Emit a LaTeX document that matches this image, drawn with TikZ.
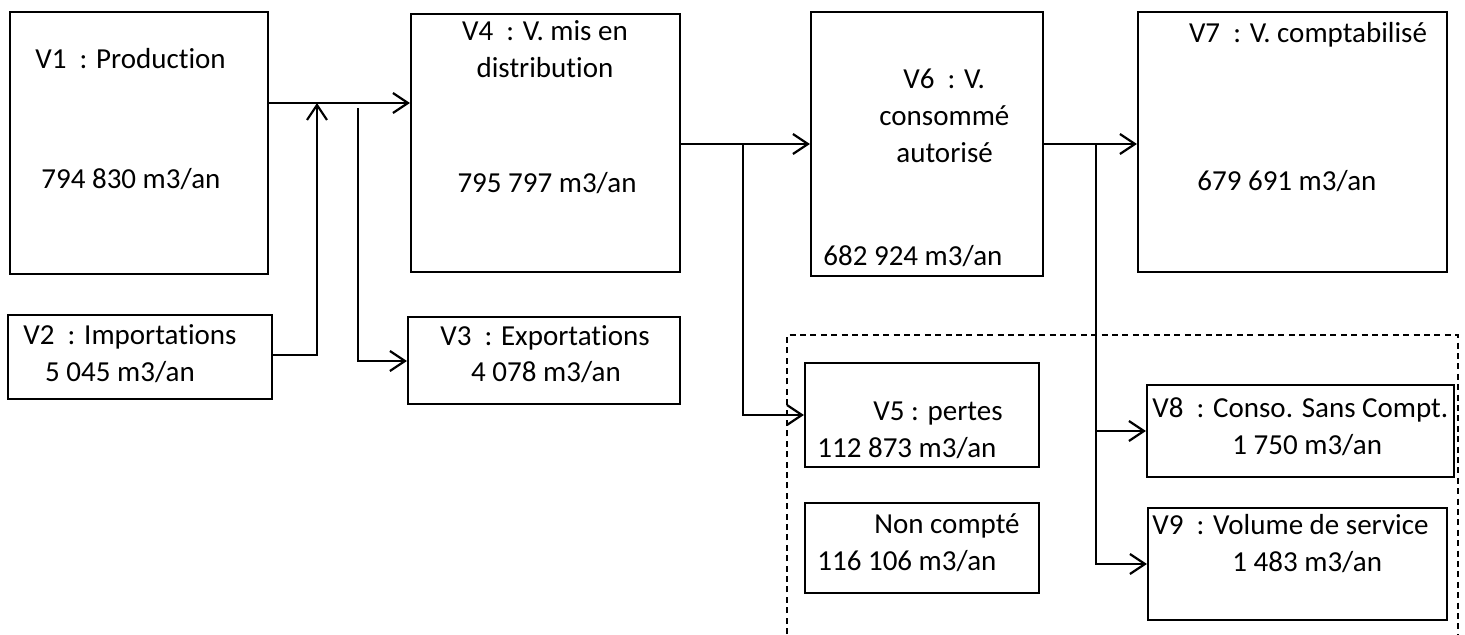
\documentclass[tikz,border=0pt]{standalone}
\usepackage{fontspec}
\setmainfont{Carlito}[Ligatures=NoCommon]
\usetikzlibrary{arrows.meta,fit}
\begin{document}
\begin{tikzpicture}[x=0.5pt,y=-0.5pt,
  box/.style={draw,line width=1.1pt,inner sep=0pt},
  txt/.style={inner sep=0pt,font=\fontsize{14.5}{18.5}\selectfont},
  conn/.style={line width=1.1pt},
  arr/.style={conn,-{Straight Barb[length=7.5pt,width=10pt,line width=1.1pt]}},
  dashbox/.style={line width=1pt,dash pattern=on 3pt off 2.2pt}]
\useasboundingbox (0,0) rectangle (1465,634);
% boxes
\node[box,fit={(10,12) (268,274)}] (v1) {};
\node[box,fit={(8,315) (272,399)}] (v2) {};
\node[box,fit={(411,14) (680,272)}] (v4) {};
\node[box,fit={(408,317) (680,404)}] (v3) {};
\node[box,fit={(811,12) (1043,276)}] (v6) {};
\node[box,fit={(1138,12) (1447,272)}] (v7) {};
\node[box,fit={(805,363) (1039,467)}] (v5) {};
\node[box,fit={(805,503) (1039,593)}] (nc) {};
\node[box,fit={(1147,385) (1454,477)}] (v8) {};
\node[box,fit={(1148,508) (1447,620)}] (v9) {};
% texts
\node[txt,anchor=base west] (t1a) at (35,68) {V1\ \ : Production};
\node[txt,anchor=base west] (t1b) at (41,188) {794 830 m3/an};
\node[txt,anchor=base] (t4a) at (545,40) {V4\ \ : V. mis en};
\node[txt,anchor=base] (t4b) at (545,77) {distribution};
\node[txt,anchor=base] (t4c) at (547,192) {795 797 m3/an};
\node[txt,anchor=base west] (t6a) at (903,88) {V6\ \ : V.};
\node[txt,anchor=base west] (t6b) at (879,125) {consommé};
\node[txt,anchor=base west] (t6c) at (896,162) {autorisé};
\node[txt,anchor=base west] (t6d) at (823,265) {682 924 m3/an};
\node[txt,anchor=base] (t7a) at (1308,42) {V7\ \ : V. comptabilisé};
\node[txt,anchor=base west] (t7b) at (1197,190) {679 691 m3/an};
\node[txt,anchor=base] (t2a) at (130,344) {V2\ \ : Importations};
\node[txt,anchor=base] (t2b) at (120,381) {5 045 m3/an};
\node[txt,anchor=base] (t3a) at (545,345) {V3\ \ : Exportations};
\node[txt,anchor=base] (t3b) at (546,381) {4 078 m3/an};
\node[txt,anchor=base west] (t5a) at (873,420) {V5 : pertes};
\node[txt,anchor=base west] (t5b) at (817,457) {112 873 m3/an};
\node[txt,anchor=base west] (tna) at (874,533) {Non compté};
\node[txt,anchor=base west] (tnb) at (817,570) {116 106 m3/an};
\node[txt,anchor=base west] (t8a) at (1152,417) {V8\ \ : Conso. Sans Compt.};
\node[txt,anchor=base west] (t8b) at (1232,454) {1 750 m3/an};
\node[txt,anchor=base west] (t9a) at (1152,534) {V9\ \ : Volume de service};
\node[txt,anchor=base west] (t9b) at (1232,571) {1 483 m3/an};
% junctions
\coordinate (j1) at (317,103);
\coordinate (j2) at (317,355);
\coordinate (j3) at (358,108);
\coordinate (j4) at (358,361);
\coordinate (j5) at (743,144);
\coordinate (j6) at (1096,144);
% connectors
\draw[arr] (v1.east|-j1) -- (v4.west|-j1);
\draw[arr] (v2.east|-j2) -- (j2) -- (j1);
\draw[arr] (j3) -- (j4) -- (v3.west|-j4);
\draw[arr] (v4.east|-j5) -- (v6.west|-j5);
\draw[arr] (j5) |- (v5.west);
\draw[arr] (v6.east|-j6) -- (v7.west|-j6);
\draw[arr] (j6|-v8.west) -- (v8.west);
\draw[arr] (j6) |- (v9.west);
% dashed frame
\draw[dashbox] (787,634) -- (787,335) -- (1458,335) -- (1458,634);
\end{tikzpicture}
\end{document}
